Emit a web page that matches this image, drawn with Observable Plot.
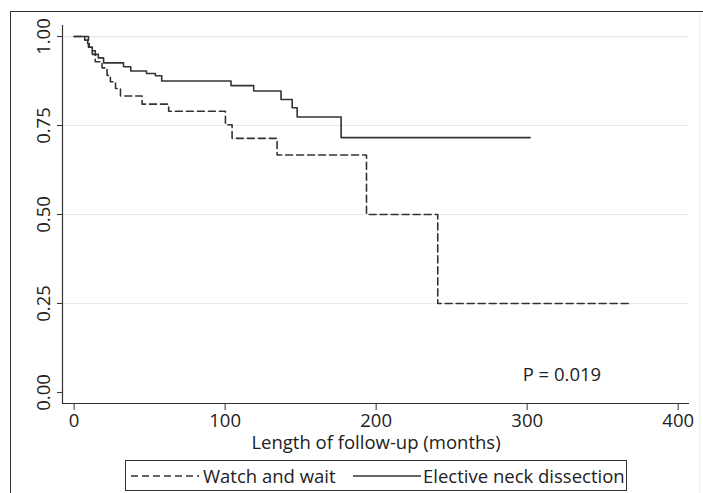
<!DOCTYPE html>
<html>
<head>
<meta charset="utf-8">
<script src="https://cdn.jsdelivr.net/npm/d3@7"></script>
<script src="https://cdn.jsdelivr.net/npm/@observablehq/plot@0.6"></script>
<style>
  html, body { margin: 0; padding: 0; background: #fff; }
  #wrap { position: relative; width: 703px; height: 493px; overflow: hidden; background: #fff; font-family: "Open Sans", sans-serif; }
  #frame { position: absolute; left: 10px; top: 11px; width: 700px; height: 500px; border-left: 1.5px solid #333; border-top: 1.5px solid #333; }
  #rframe { position: absolute; left: 699px; top: 12px; width: 0; height: 490px; border-left: 1px solid #eeeeee; }
  #legend { position: absolute; left: 125px; top: 460px; width: 502px; height: 31px; box-sizing: border-box; border: 1px solid #333; font-size: 18.5px; color: #222; white-space: nowrap; }
  #legend svg { position: absolute; top: 10px; display: block; }
  #legend span { position: absolute; top: 1px; line-height: 28px; }
  #chart svg text { font-size: 18.5px !important; font-family: "Open Sans", sans-serif !important; fill: #222; }
</style>
</head>
<body>
<div id="wrap">
  <div id="frame"></div>
  <div id="rframe"></div>
  <div id="chart"></div>
  <div id="legend"></div>
</div>
<script>
// ---- data ----
const groups = ["Watch and wait", "Elective neck dissection"];

const wwTime = [0, 9.5, 12, 14, 18.5, 21.8, 24, 27.4, 30.7, 45, 62.6, 100.2, 104.6, 134.4, 193.6, 240.8, 369.5];
const wwSurv = [1, 0.97, 0.95, 0.929, 0.912, 0.891, 0.873, 0.854, 0.833, 0.81, 0.79, 0.752, 0.714, 0.667, 0.5, 0.25, 0.25];

const endTime = [0, 7, 9, 10, 12, 14, 16, 19.5, 32.7, 37.5, 47.9, 53.8, 58, 103.9, 118.9, 137, 144.4, 147.7, 176.8, 302];
const endSurv = [1, 0.99, 0.98, 0.97, 0.96, 0.95, 0.94, 0.926, 0.915, 0.903, 0.896, 0.89, 0.875, 0.862, 0.847, 0.823, 0.80, 0.774, 0.716, 0.716];

const xTicks = [0, 100, 200, 300, 400];
const yTicks = [0, 0.25, 0.5, 0.75, 1];
const yGrid = [0.25, 0.5, 0.75, 1];
const xDomain = [-7.7, 407.5];
const yDomain = [-0.031, 1.031];
const xTitle = "Length of follow-up (months)";
const pText = "P = 0.019";
const pPos = {x: 323, y: 0.048};

// ---- build ----
const ww = wwTime.map((t, i) => ({t, s: wwSurv[i]}));
const end = endTime.map((t, i) => ({t, s: endSurv[i]}));
const ink = "#333";
const fs = 18.5;

const chart = Plot.plot({
  width: 703,
  height: 493,
  marginLeft: 62,
  marginRight: 14,
  marginTop: 25,
  marginBottom: 90,
  style: {fontFamily: "'Open Sans', sans-serif", fontSize: fs + "px", color: "#222", background: "transparent"},
  x: {domain: xDomain},
  y: {domain: yDomain},
  marks: [
    Plot.gridY(yGrid, {stroke: "#e3eaea", strokeOpacity: 1, strokeWidth: 1.2}),
    Plot.axisY(yTicks, {tickFormat: d => d.toFixed(2), tickRotate: -90, tickSize: 5, tickPadding: 8, label: null, stroke: ink, fontSize: fs}),
    Plot.axisX(xTicks, {tickSize: 7, tickPadding: 3, label: null, stroke: ink, fontSize: fs}),
    Plot.ruleX([xDomain[0]], {stroke: ink, strokeWidth: 1.2}),
    Plot.ruleY([yDomain[0]], {stroke: ink, strokeWidth: 1.2}),
    Plot.text([xTitle], {frameAnchor: "bottom", dy: 40, lineAnchor: "middle", fontSize: fs, fill: "#222"}),
    Plot.text([pPos], {x: "x", y: "y", text: () => pText, fontSize: fs, fill: "#222"}),
    Plot.line(ww, {x: "t", y: "s", curve: "step-after", stroke: ink, strokeWidth: 1.6, strokeDasharray: "7,4"}),
    Plot.line(end, {x: "t", y: "s", curve: "step-after", stroke: ink, strokeWidth: 1.6})
  ]
});
document.getElementById("chart").appendChild(chart);

// ---- legend ----
const legend = document.getElementById("legend");
const styles = ["7,4", null];
const sampleLeft = [5, 227];
const textLeft = [77, 297];
groups.forEach((g, i) => {
  const svg = d3.create("svg").attr("width", 68).attr("height", 10)
    .style("left", sampleLeft[i] + "px");
  svg.append("line").attr("x1", 0).attr("x2", 68).attr("y1", 5).attr("y2", 5)
    .attr("stroke", ink).attr("stroke-width", 1.4)
    .attr("stroke-dasharray", styles[i]);
  legend.appendChild(svg.node());
  const span = document.createElement("span");
  span.textContent = g;
  span.style.left = textLeft[i] + "px";
  legend.appendChild(span);
});
</script>
</body>
</html>
